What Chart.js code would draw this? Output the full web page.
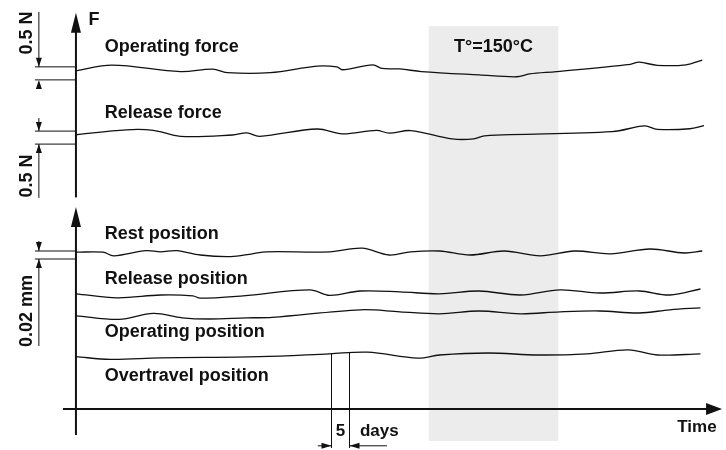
<!DOCTYPE html>
<html>
<head>
<meta charset="utf-8">
<script src="https://cdn.jsdelivr.net/npm/chart.js@4"></script>
<style>
  html, body { margin: 0; padding: 0; background: #fff; }
  #wrap { width: 726px; height: 450px; }
</style>
</head>
<body>
<div id="wrap"><canvas id="chart"></canvas></div>
<script>
// time in days, forces in N, positions in mm
const operatingForceDays = [0, 10, 29, 38, 42, 54, 67, 72.5, 74, 82.5, 85, 90, 96, 112, 122.5, 126, 133.5, 154, 156.5, 161.5, 169.5, 174];
const operatingForceN = [4.97, 5.19, 4.94, 5.03, 4.90, 4.90, 5.15, 5.12, 5.01, 5.20, 5.06, 5.04, 4.94, 4.81, 4.74, 4.85, 4.94, 5.22, 5.30, 5.18, 5.20, 5.38];

const releaseForceDays = [0, 14, 21.5, 29, 43.5, 47.5, 51, 67, 74, 83.5, 87, 93, 104.5, 110.5, 113.5, 149, 158, 161.5, 170.5, 174.5];
const releaseForceN = [2.51, 2.70, 2.68, 2.45, 2.50, 2.58, 2.45, 2.73, 2.54, 2.68, 2.57, 2.67, 2.35, 2.35, 2.47, 2.63, 2.85, 2.72, 2.74, 2.86];

const restPosDays = [0, 7.5, 10.5, 19.5, 23.5, 28, 34.5, 43, 49, 53, 70.5, 79.5, 87, 93, 101, 109.5, 119, 129, 138.5, 148.5, 159.5, 169, 174];
const restPosMm = [0.392, 0.392, 0.383, 0.396, 0.393, 0.396, 0.385, 0.381, 0.388, 0.393, 0.393, 0.402, 0.385, 0.393, 0.395, 0.385, 0.395, 0.383, 0.395, 0.388, 0.400, 0.390, 0.395];

const releasePosDays = [0, 11.5, 23.5, 32.5, 34.5, 46.5, 65, 70.5, 79, 90, 101, 112, 123.5, 134.5, 145.5, 156.5, 165, 173.5];
const releasePosMm = [0.288, 0.278, 0.285, 0.283, 0.277, 0.283, 0.298, 0.284, 0.295, 0.293, 0.288, 0.295, 0.285, 0.298, 0.290, 0.295, 0.285, 0.300];

const operatingPosDays = [0, 12, 21.5, 29.5, 37, 47.5, 54.5, 79, 90, 101, 112, 123.5, 134.5, 145.5, 156.5, 165, 173.5];
const operatingPosMm = [0.233, 0.224, 0.239, 0.228, 0.225, 0.228, 0.229, 0.248, 0.243, 0.238, 0.245, 0.238, 0.243, 0.245, 0.240, 0.248, 0.253];

const overtravelPosDays = [0, 9.5, 23.5, 51, 70.5, 81, 95, 101, 114.5, 128.5, 142, 153.5, 161.5, 173.5];
const overtravelPosMm = [0.131, 0.124, 0.128, 0.131, 0.138, 0.142, 0.127, 0.135, 0.140, 0.135, 0.138, 0.148, 0.135, 0.138];

const seriesLabels = ['Operating force', 'Release force', 'Rest position', 'Release position', 'Operating position', 'Overtravel position'];
const labelDay = 8;
const labelValues = [5.69, 3.15, 0.425, 0.3125, 0.18, 0.07];

const heatDays = [98, 134];
const heatLabel = 'T°=150°C';
const scaleBarDays = [71, 76];
const opForceRef = [4.62, 5.12];
const relForceRef = [2.15, 2.65];
const posRef = [0.375, 0.395];

const FONT = "bold 18px 'Liberation Sans', Arial, sans-serif";
const SMALL_FONT = "bold 17px 'Liberation Sans', Arial, sans-serif";
const INK = '#111';

const pts = (xs, ys) => xs.map((x, i) => ({ x, y: ys[i] }));

function line(ctx, x1, y1, x2, y2, w) {
  ctx.lineWidth = w;
  ctx.beginPath();
  ctx.moveTo(x1, y1);
  ctx.lineTo(x2, y2);
  ctx.stroke();
}

// dir: 'up' | 'down' | 'left' | 'right'
function arrow(ctx, tx, ty, dir, len, hw) {
  ctx.beginPath();
  ctx.moveTo(tx, ty);
  if (dir === 'up') { ctx.lineTo(tx - hw, ty + len); ctx.lineTo(tx + hw, ty + len); }
  if (dir === 'down') { ctx.lineTo(tx - hw, ty - len); ctx.lineTo(tx + hw, ty - len); }
  if (dir === 'right') { ctx.lineTo(tx - len, ty - hw); ctx.lineTo(tx - len, ty + hw); }
  if (dir === 'left') { ctx.lineTo(tx + len, ty - hw); ctx.lineTo(tx + len, ty + hw); }
  ctx.closePath();
  ctx.fill();
}

function vText(ctx, text, x, y) {
  ctx.save();
  ctx.translate(x, y);
  ctx.rotate(-Math.PI / 2);
  ctx.textAlign = 'center';
  ctx.textBaseline = 'middle';
  ctx.fillText(text, 0, 0);
  ctx.restore();
}

const sketch = {
  id: 'sketch',
  beforeDatasetsDraw(chart) {
    const { ctx, scales } = chart;
    const x = scales.x, f = scales.yF, p = scales.yP;
    ctx.save();
    ctx.fillStyle = '#ececec';
    const x1 = x.getPixelForValue(heatDays[0]), x2 = x.getPixelForValue(heatDays[1]);
    const top = f.getPixelForValue(6.69), bot = p.getPixelForValue(-0.08);
    ctx.fillRect(x1, top, x2 - x1, bot - top);
    ctx.restore();
  },
  afterDatasetsDraw(chart) {
    const { ctx, scales } = chart;
    const x = scales.x, f = scales.yF, p = scales.yP;
    const x0 = x.getPixelForValue(0);
    ctx.save();
    ctx.strokeStyle = INK;
    ctx.fillStyle = INK;

    // axes
    const fTip = f.getPixelForValue(7.2);
    line(ctx, x0, f.getPixelForValue(0.1), x0, fTip + 10, 2);
    arrow(ctx, x0, fTip, 'up', 20, 5);
    const pTip = p.getPixelForValue(0.505);
    line(ctx, x0, p.getPixelForValue(-0.065), x0, pTip + 10, 2);
    arrow(ctx, x0, pTip, 'up', 20, 5);
    const t0 = p.getPixelForValue(0);
    const tTip = x.getPixelForValue(179.5);
    line(ctx, x.getPixelForValue(-3.6), t0, tTip - 8, t0, 2);
    arrow(ctx, tTip, t0, 'right', 16, 6);

    // reference bars on the left
    const refL = x.getPixelForValue(-11.4), ax = x.getPixelForValue(-10.3);
    const refs = [[f, opForceRef], [f, relForceRef], [p, posRef]];
    refs.forEach(([s, r]) => {
      line(ctx, refL, s.getPixelForValue(r[0]), x0, s.getPixelForValue(r[0]), 1);
      line(ctx, refL, s.getPixelForValue(r[1]), x0, s.getPixelForValue(r[1]), 1);
    });
    // 0.5 N upper: long tail above, stub below
    let hi = f.getPixelForValue(opForceRef[1]), lo = f.getPixelForValue(opForceRef[0]);
    line(ctx, ax, f.getPixelForValue(7.23), ax, hi, 1);
    arrow(ctx, ax, hi, 'down', 9, 3);
    arrow(ctx, ax, lo, 'up', 9, 3);
    // 0.5 N lower: stub above, long tail below
    hi = f.getPixelForValue(relForceRef[1]); lo = f.getPixelForValue(relForceRef[0]);
    line(ctx, ax, f.getPixelForValue(3.15), ax, hi, 1);
    arrow(ctx, ax, hi, 'down', 9, 3);
    line(ctx, ax, lo, ax, f.getPixelForValue(0.08), 1);
    arrow(ctx, ax, lo, 'up', 9, 3);
    // 0.02 mm
    hi = p.getPixelForValue(posRef[1]); lo = p.getPixelForValue(posRef[0]);
    line(ctx, ax, p.getPixelForValue(0.42), ax, hi, 1);
    arrow(ctx, ax, hi, 'down', 9, 3);
    line(ctx, ax, lo, ax, p.getPixelForValue(0.1575), 1);
    arrow(ctx, ax, lo, 'up', 9, 3);

    // 5 days bar
    const b1 = x.getPixelForValue(scaleBarDays[0]), b2 = x.getPixelForValue(scaleBarDays[1]);
    const bt = p.getPixelForValue(0.14), bb = p.getPixelForValue(-0.0975), by = p.getPixelForValue(-0.092);
    line(ctx, b1, bt, b1, bb, 1);
    line(ctx, b2, bt, b2, bb, 1);
    line(ctx, x.getPixelForValue(67.2), by, b1, by, 1);
    arrow(ctx, b1, by, 'right', 10, 3);
    line(ctx, b2, by, x.getPixelForValue(86.4), by, 1);
    arrow(ctx, b2, by, 'left', 10, 3);

    // texts
    ctx.font = FONT;
    ctx.textBaseline = 'alphabetic';
    ctx.textAlign = 'left';
    const lx = x.getPixelForValue(labelDay);
    seriesLabels.forEach((t, i) => {
      const s = i < 2 ? f : p;
      ctx.fillText(t, lx, s.getPixelForValue(labelValues[i]));
    });
    ctx.textAlign = 'center';
    ctx.fillText(heatLabel, x.getPixelForValue((heatDays[0] + heatDays[1]) / 2), f.getPixelForValue(5.69));
    ctx.fillText('F', x.getPixelForValue(5), f.getPixelForValue(6.73));
    const vx = x.getPixelForValue(-13.6);
    vText(ctx, '0.5 N', vx, f.getPixelForValue(6.42));
    vText(ctx, '0.5 N', vx, f.getPixelForValue(0.92));
    vText(ctx, '0.02 mm', vx, p.getPixelForValue(0.245));
    ctx.font = SMALL_FONT;
    ctx.fillText('5', x.getPixelForValue((scaleBarDays[0] + scaleBarDays[1]) / 2), p.getPixelForValue(-0.0675));
    ctx.textAlign = 'left';
    ctx.fillText('days', x.getPixelForValue(78.9), p.getPixelForValue(-0.0675));
    ctx.textAlign = 'right';
    ctx.fillText('Time', x.getPixelForValue(178), p.getPixelForValue(-0.0575));
    ctx.restore();
  }
};

const curve = (label, xs, ys, axis) => ({
  label,
  data: pts(xs, ys),
  yAxisID: axis,
  borderColor: INK,
  borderWidth: 1.3,
  pointRadius: 0,
  tension: 0.35,
  fill: false
});

const datasets = [
  curve(seriesLabels[0], operatingForceDays, operatingForceN, 'yF'),
  curve(seriesLabels[1], releaseForceDays, releaseForceN, 'yF'),
  curve(seriesLabels[2], restPosDays, restPosMm, 'yP'),
  curve(seriesLabels[3], releasePosDays, releasePosMm, 'yP'),
  curve(seriesLabels[4], operatingPosDays, operatingPosMm, 'yP'),
  curve(seriesLabels[5], overtravelPosDays, overtravelPosMm, 'yP')
];

new Chart(document.getElementById('chart'), {
  type: 'line',
  data: { datasets },
  options: {
    responsive: true,
    maintainAspectRatio: false,
    animation: false,
    layout: { padding: 0 },
    plugins: { legend: { display: false }, tooltip: { enabled: false } },
    scales: {
      x: { type: 'linear', min: -21.1, max: 180.6, display: false },
      yF: { type: 'linear', min: -9.615, max: 7.692, display: false },
      yP: { type: 'linear', min: -0.1025, max: 1.0225, display: false }
    }
  },
  plugins: [sketch]
});
</script>
</body>
</html>
